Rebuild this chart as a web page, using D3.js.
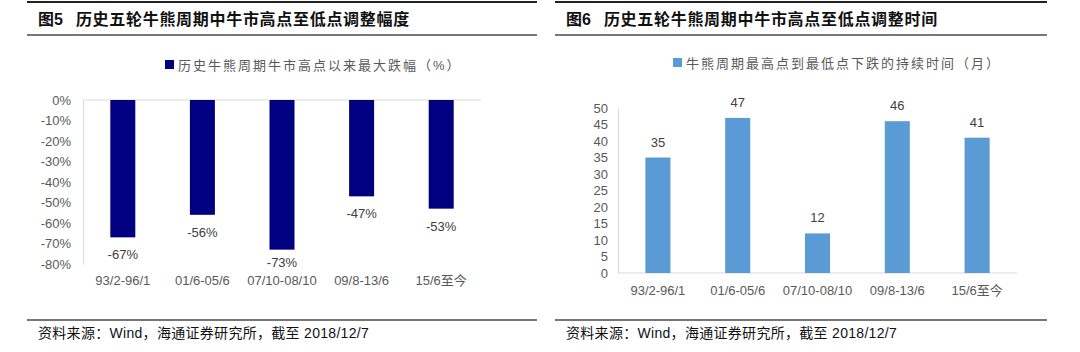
<!DOCTYPE html>
<html>
<head>
<meta charset="utf-8">
<script src="https://cdn.jsdelivr.net/npm/d3@7"></script>
<style>
  body { margin: 0; background: #fff; }
  svg { display: block; font-family: "Liberation Sans", Arial, "Noto Sans CJK SC", sans-serif; }
</style>
</head>
<body>
<svg id="chart" width="1080" height="352"></svg>
<script>
// categories shared by both charts
const categories = ["93/2-96/1", "01/6-05/6", "07/10-08/10", "09/8-13/6", "15/6至今"];
// left: max drawdown (%) from bull market peak
const drawdown = [-67, -56, -73, -47, -53];
const drawdownTicks = [0, -10, -20, -30, -40, -50, -60, -70, -80];
// right: duration peak to trough (months)
const duration = [35, 47, 12, 46, 41];
const durationTicks = [0, 5, 10, 15, 20, 25, 30, 35, 40, 45, 50];

const svg = d3.select("#chart");
const textColor = "#595959";
const axisColor = "#d9d9d9";

// panel frame: header lines, title, bottom rule, source note
function drawFrame(x0, x1, num, title) {
    const g = svg.append("g");
    g.append("line").attr("x1", x0).attr("x2", x1).attr("y1", 2).attr("y2", 2)
        .attr("stroke", "#222").attr("stroke-width", 2);
    g.append("line").attr("x1", x0).attr("x2", x1).attr("y1", 35).attr("y2", 35)
        .attr("stroke", "#777").attr("stroke-width", 2);
    const t = g.append("text").attr("x", x0 + 11).attr("y", 25)
        .attr("font-size", 16).attr("font-weight", "bold").attr("fill", "#111");
    t.append("tspan").text(num);
    t.append("tspan").attr("dx", 13).style("letter-spacing", "0.7px").text(title);
    g.append("line").attr("x1", x0).attr("x2", x1).attr("y1", 320).attr("y2", 320)
        .attr("stroke", "#777").attr("stroke-width", 2);
    g.append("text").attr("x", x0 + 11).attr("y", 338)
        .attr("font-size", 14).attr("fill", "#111")
        .style("letter-spacing", "0.3px")
        .text("资料来源：Wind，海通证券研究所，截至 2018/12/7");
}

drawFrame(27, 537, "图5", "历史五轮牛熊周期中牛市高点至低点调整幅度");
drawFrame(555, 1047, "图6", "历史五轮牛熊周期中牛市高点至低点调整时间");

function legend(x, y, color, label) {
    svg.append("rect").attr("x", x).attr("y", y - 5).attr("width", 9).attr("height", 9).attr("fill", color);
    svg.append("text").attr("x", x + 13).attr("y", y + 5)
        .attr("font-size", 13).attr("fill", textColor)
        .style("letter-spacing", "2px")
        .text(label);
}

// ---------- left chart ----------
{
    const x = d3.scaleBand().domain(categories).range([83, 481])
        .paddingInner(0.686).paddingOuter(0.343);
    const y = d3.scaleLinear().domain([-80, 0]).range([264, 100]);

    legend(165, 65, "#000080", "历史牛熊周期牛市高点以来最大跌幅（%）");

    const yAxis = svg.append("g").attr("transform", "translate(83,0)")
        .call(d3.axisLeft(y).tickValues(drawdownTicks).tickSize(0).tickPadding(12)
            .tickFormat(d => d + "%"));
    yAxis.select(".domain").attr("stroke", axisColor);
    yAxis.selectAll("text").attr("font-size", 13).attr("fill", textColor)
        .style("font-family", "'Liberation Sans', Arial, sans-serif");

    svg.append("line").attr("x1", 83).attr("x2", 481).attr("y1", y(0)).attr("y2", y(0))
        .attr("stroke", axisColor);

    svg.selectAll(".bar-l").data(drawdown).enter().append("rect")
        .attr("x", (d, i) => x(categories[i]))
        .attr("y", y(0))
        .attr("width", x.bandwidth())
        .attr("height", d => y(d) - y(0))
        .attr("fill", "#000080");

    // labels sit under the bar end, kept clear of the category labels
    svg.selectAll(".lab-l").data(drawdown).enter().append("text")
        .attr("x", (d, i) => x(categories[i]) + x.bandwidth() / 2)
        .attr("y", d => Math.min(y(d) + 22, 267))
        .attr("text-anchor", "middle").attr("font-size", 13).attr("fill", "#404040")
        .text(d => d + "%");

    svg.selectAll(".cat-l").data(categories).enter().append("text")
        .attr("x", d => x(d) + x.bandwidth() / 2)
        .attr("y", 285)
        .attr("text-anchor", "middle").attr("font-size", 13).attr("fill", textColor)
        .text(d => d);
}

// ---------- right chart ----------
{
    const x = d3.scaleBand().domain(categories).range([618, 1017])
        .paddingInner(0.686).paddingOuter(0.343);
    const y = d3.scaleLinear().domain([0, 50]).range([273, 108]);

    legend(673, 63, "#5b9bd5", "牛熊周期最高点到最低点下跌的持续时间（月）");

    const yAxis = svg.append("g").attr("transform", "translate(618,0)")
        .call(d3.axisLeft(y).tickValues(durationTicks).tickSize(0).tickPadding(10));
    yAxis.select(".domain").attr("stroke", axisColor);
    yAxis.selectAll("text").attr("font-size", 13).attr("fill", textColor)
        .style("font-family", "'Liberation Sans', Arial, sans-serif");

    svg.append("line").attr("x1", 618).attr("x2", 1017).attr("y1", y(0)).attr("y2", y(0))
        .attr("stroke", axisColor);

    svg.selectAll(".bar-r").data(duration).enter().append("rect")
        .attr("x", (d, i) => x(categories[i]))
        .attr("y", d => y(d))
        .attr("width", x.bandwidth())
        .attr("height", d => y(0) - y(d))
        .attr("fill", "#5b9bd5");

    svg.selectAll(".lab-r").data(duration).enter().append("text")
        .attr("x", (d, i) => x(categories[i]) + x.bandwidth() / 2)
        .attr("y", d => y(d) - 11)
        .attr("text-anchor", "middle").attr("font-size", 13).attr("fill", "#404040")
        .text(d => d);

    svg.selectAll(".cat-r").data(categories).enter().append("text")
        .attr("x", d => x(d) + x.bandwidth() / 2)
        .attr("y", 295)
        .attr("text-anchor", "middle").attr("font-size", 13).attr("fill", textColor)
        .text(d => d);
}
</script>
</body>
</html>
